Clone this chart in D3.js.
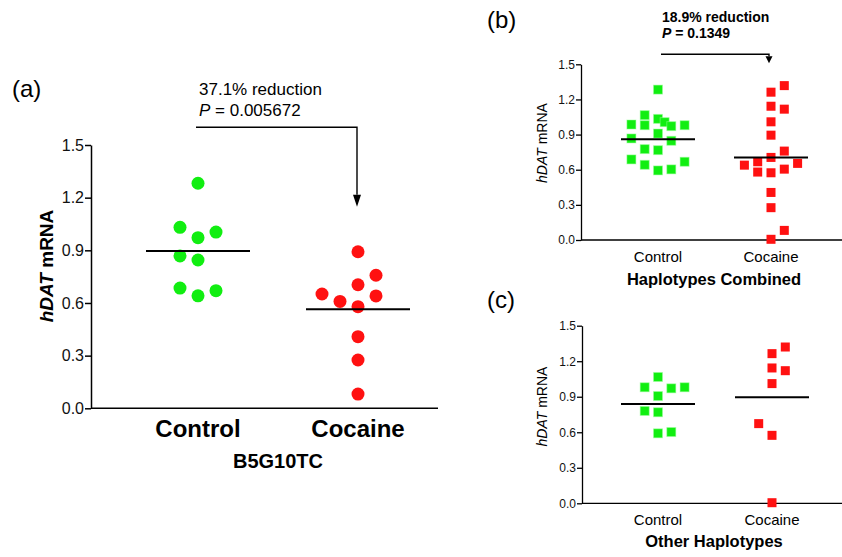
<!DOCTYPE html>
<html lang="en">
<head>
<meta charset="utf-8">
<title>hDAT mRNA scatter panels</title>
<script src="https://d3js.org/d3.v7.min.js"></script>
<style>
  body { margin: 0; background: #fff; }
  svg { display: block; font-family: Arial, "Liberation Sans", sans-serif; }
</style>
</head>
<body>
<script>
// ---- data ----
const categories = ["Control", "Cocaine"];
const yTicks = [0, 0.3, 0.6, 0.9, 1.2, 1.5];

// panel (a) B5G10TC, values + beeswarm column slot
const aControl      = [1.282, 1.031, 1.004, 0.972, 0.868, 0.845, 0.685, 0.670, 0.641];
const aControlSlot  = [0, -1, 1, 0, -1, 0, -1, 1, 0];
const aCocaine      = [0.892, 0.758, 0.704, 0.651, 0.640, 0.609, 0.579, 0.408, 0.275, 0.081];
const aCocaineSlot  = [0, 1, 0, -2, 1, -1, 0, 0, 0, 0];
const aMeans        = [0.896, 0.564];

// panel (b) haplotypes combined
const bControl      = [1.284, 1.066, 1.034, 1.006, 0.986, 0.980, 0.972, 0.980, 0.909,
                       0.867, 0.847, 0.776, 0.767, 0.688, 0.668, 0.642, 0.594, 0.603];
const bControlSlot  = [0, -1, 0, 0.5, -2, -1, 1, 2, 0, -2, 1, -1, 0, -2, 2, -1, 0, 1];
const bCocaine      = [1.318, 1.262, 1.142, 1.117, 1.009, 0.895, 0.759, 0.705, 0.668,
                       0.639, 0.654, 0.580, 0.574, 0.605, 0.406, 0.276, 0.082, 0.006];
const bCocaineSlot  = [1, 0, 0, 1, 0, 0, 1, 0, -1, -2, 2, -1, 0, 1, 0, 0, 1, 0];
const bMeans        = [0.861, 0.705];

// panel (c) other haplotypes
const cControl      = [1.067, 0.980, 0.971, 0.980, 0.906, 0.780, 0.769, 0.591, 0.602];
const cControlSlot  = [0, -1, 1, 2, 0, -1, 0, 0, 1];
const cCocaine      = [1.320, 1.264, 1.143, 1.120, 1.011, 0.673, 0.574, 0.005];
const cCocaineSlot  = [1, 0, 0, 1, 0, -1, 0, 0];
const cMeans        = [0.839, 0.895];

const colors = { Control: "#11ee11", Cocaine: "#ff1111" };

const svg = d3.select("body").append("svg")
  .attr("width", 842)
  .attr("height", 557);

function panel(o) {
  const g = svg.append("g");
  const y = d3.scaleLinear().domain([0, 1.5]).range(o.yRange);
  const x = d3.scalePoint().domain(categories).range(o.xRange);
  const slot = d3.scaleLinear().domain([0, 1]).range([0, o.slotUnit]);

  // y axis
  const yAxis = d3.axisLeft(y).tickValues(yTicks).tickFormat(d3.format(".1f"))
    .tickSize(o.tickSize).tickPadding(1).tickSizeOuter(0);
  const ya = g.append("g").attr("transform", `translate(${o.axisX},0)`).call(yAxis);
  ya.select(".domain").attr("stroke-width", o.axisW);
  ya.selectAll(".tick line").attr("stroke-width", o.axisW);
  ya.selectAll(".tick text").attr("font-size", o.tickFont).attr("fill", "#111")
    .attr("font-family", "Arial, 'Liberation Sans', sans-serif");

  // x axis line
  g.append("line")
    .attr("x1", o.axisX).attr("x2", o.axisEnd)
    .attr("y1", y(0)).attr("y2", y(0))
    .attr("stroke", "#000").attr("stroke-width", o.axisW);

  // category labels
  g.selectAll("text.cat").data(categories).join("text")
    .attr("class", "cat")
    .attr("x", d => x(d)).attr("y", o.catY)
    .attr("text-anchor", "middle")
    .attr("font-size", o.catFont).attr("font-weight", o.catWeight)
    .text(d => d);

  // group title
  g.append("text")
    .attr("x", o.titleX).attr("y", o.titleY)
    .attr("text-anchor", "middle")
    .attr("font-size", o.titleFont).attr("font-weight", "bold")
    .text(o.title);

  // y title
  const yt = g.append("text")
    .attr("transform", `translate(${o.yTitleX},${o.yTitleY}) rotate(-90)`)
    .attr("text-anchor", "middle")
    .attr("font-size", o.yTitleFont).attr("font-weight", o.yTitleWeight);
  yt.append("tspan").attr("font-style", "italic").text("hDAT");
  yt.append("tspan").text(" mRNA");

  // panel letter
  g.append("text")
    .attr("x", o.letterX).attr("y", o.letterY)
    .attr("font-size", 24)
    .text(o.letter);

  // points
  o.groups.forEach((vals, gi) => {
    const cat = categories[gi];
    const pts = vals.map((v, i) => ({ v: v, s: o.slots[gi][i] }));
    if (o.shape === "circle") {
      g.selectAll(null).data(pts).join("circle")
        .attr("cx", d => x(cat) + slot(d.s))
        .attr("cy", d => y(d.v))
        .attr("r", o.size)
        .attr("fill", colors[cat]);
    } else {
      g.selectAll(null).data(pts).join("rect")
        .attr("x", d => x(cat) + slot(d.s) - o.size / 2)
        .attr("y", d => y(d.v) - o.size / 2)
        .attr("width", o.size).attr("height", o.size)
        .attr("fill", colors[cat])
        .attr("stroke", "#9f9").attr("stroke-opacity", gi ? 0 : 0.5);
    }
  });

  // mean lines
  g.selectAll("line.mean").data(o.means).join("line")
    .attr("class", "mean")
    .attr("x1", (d, i) => x(categories[i]) - o.meanHalf)
    .attr("x2", (d, i) => x(categories[i]) + o.meanHalf)
    .attr("y1", d => y(d)).attr("y2", d => y(d))
    .attr("stroke", "#000").attr("stroke-width", 2);

  // annotation with bracket + arrow
  if (o.note) {
    const t = g.append("text")
      .attr("font-size", o.note.font).attr("font-weight", o.note.weight);
    t.append("tspan").attr("x", o.note.x).attr("y", o.note.y1).text(o.note.line1);
    const t2 = t.append("tspan").attr("x", o.note.x).attr("y", o.note.y2);
    t2.append("tspan").attr("font-style", "italic").text("P");
    t2.append("tspan").text(" = " + o.note.p);

    const by = y(1.5) - o.note.lift;
    const x0 = x("Control") + o.note.dx0, x1 = x("Cocaine") + o.note.dx1;
    const tip = by + o.note.drop;
    g.append("path")
      .attr("d", `M${x0},${by}H${x1}V${tip - o.note.head}`)
      .attr("fill", "none").attr("stroke", "#000").attr("stroke-width", 1.4);
    g.append("path")
      .attr("d", `M${x1 - o.note.headW},${tip - o.note.head}L${x1 + o.note.headW},${tip - o.note.head}L${x1},${tip}Z`)
      .attr("fill", "#000");
  }
}

panel({
  yRange: [408.3, 145], xRange: [198, 358], axisX: 91, axisEnd: 438, axisW: 1.5,
  tickSize: 6, tickFont: 16, slotUnit: 18, shape: "circle", size: 6.5, meanHalf: 52,
  catY: 437, catFont: 24, catWeight: "bold",
  title: "B5G10TC", titleX: 278, titleY: 468, titleFont: 20,
  yTitleX: 53, yTitleY: 266, yTitleFont: 19, yTitleWeight: "bold",
  letter: "(a)", letterX: 12, letterY: 97,
  groups: [aControl, aCocaine], slots: [aControlSlot, aCocaineSlot], means: aMeans,
  note: { x: 199, y1: 95, y2: 116, font: 17, weight: "normal", line1: "37.1% reduction",
          p: "0.005672", lift: 17.7, dx0: -2, dx1: -1, drop: 79.5, head: 12, headW: 4 }
});

panel({
  yRange: [240, 64.3], xRange: [658, 771], axisX: 581, axisEnd: 842, axisW: 1.3,
  tickSize: 5, tickFont: 12, slotUnit: 13.3, shape: "rect", size: 9, meanHalf: 37,
  catY: 261.5, catFont: 15, catWeight: "normal",
  title: "Haplotypes Combined", titleX: 714, titleY: 285, titleFont: 16.5,
  yTitleX: 546.5, yTitleY: 143, yTitleFont: 14, yTitleWeight: "normal",
  letter: "(b)", letterX: 487, letterY: 28,
  groups: [bControl, bCocaine], slots: [bControlSlot, bCocaineSlot], means: bMeans,
  note: { x: 662, y1: 21.5, y2: 37.5, font: 14, weight: "bold", line1: "18.9% reduction",
          p: "0.1349", lift: 10, dx0: 3, dx1: -2, drop: 9, head: 7, headW: 3.5 }
});

panel({
  yRange: [503.3, 325.7], xRange: [658, 772], axisX: 582, axisEnd: 842, axisW: 1.3,
  tickSize: 5, tickFont: 12, slotUnit: 13.3, shape: "rect", size: 9, meanHalf: 37,
  catY: 525, catFont: 15, catWeight: "normal",
  title: "Other Haplotypes", titleX: 714, titleY: 546.5, titleFont: 16.5,
  yTitleX: 546.5, yTitleY: 406.5, yTitleFont: 14, yTitleWeight: "normal",
  letter: "(c)", letterX: 487, letterY: 308,
  groups: [cControl, cCocaine], slots: [cControlSlot, cCocaineSlot], means: cMeans,
  note: null
});
</script>
</body>
</html>
